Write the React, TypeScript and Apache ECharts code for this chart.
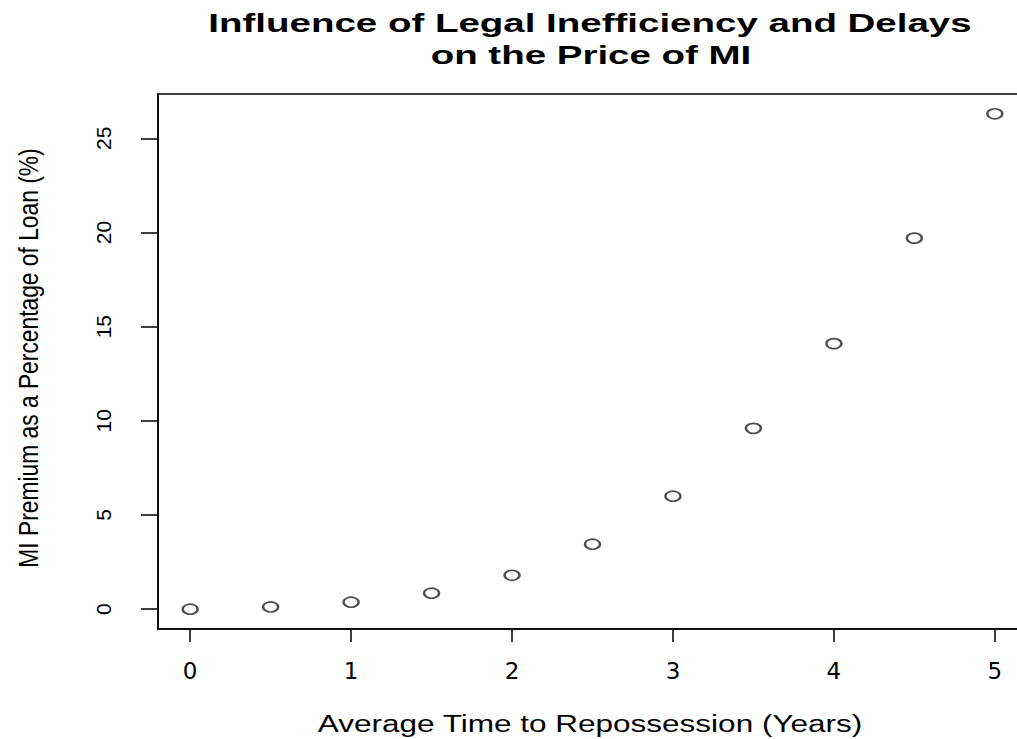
import React, { useEffect, useRef } from "react";
import * as echarts from "echarts";

const xValues = [0, 0.5, 1, 1.5, 2, 2.5, 3, 3.5, 4, 4.5, 5];
const yValues = [0, 0.12, 0.37, 0.85, 1.8, 3.45, 6.0, 9.6, 14.1, 19.7, 26.3];
const xTicks = [0, 1, 2, 3, 4, 5];
const yTicks = [0, 5, 10, 15, 20, 25];
const titleLines = ["Influence of Legal Inefficiency and Delays", "on the Price of MI"];
const xName = "Average Time to Repossession (Years)";
const yName = "MI Premium as a Percentage of Loan (%)";

export default function App() {
  const ref = useRef<HTMLDivElement>(null);
  useEffect(() => {
    document.body.style.margin = "0";
    document.body.style.overflow = "hidden";
    const chart = echarts.init(ref.current!, null, { renderer: "svg" });
    const font = "Liberation Sans, Arial, sans-serif";
    chart.setOption({
      animation: false,
      backgroundColor: "#fff",
      grid: {
        left: 158,
        top: 94,
        right: 0,
        bottom: 110,
        show: true,
        borderColor: "#000",
        borderWidth: 1.5,
        backgroundColor: "transparent",
        containLabel: false,
      },
      xAxis: {
        type: "value",
        min: -0.2,
        max: 5.2,
        splitLine: { show: false },
        axisLine: { show: true, onZero: false, lineStyle: { color: "#000", width: 1.5 } },
        axisTick: { show: true, length: 13, customValues: xTicks, lineStyle: { color: "#000", width: 1.5 } },
        axisLabel: {
          customValues: xTicks,
          margin: 30,
          fontSize: 23,
          fontFamily: "DejaVu Sans, sans-serif",
          color: "#000",
          formatter: (v: number) => String(v),
        },
      },
      yAxis: {
        type: "value",
        min: -1.052,
        max: 27.352,
        splitLine: { show: false },
        axisLine: { show: true, onZero: false, lineStyle: { color: "#000", width: 1.5 } },
        axisTick: { show: true, length: 17, customValues: yTicks, lineStyle: { color: "#000", width: 1.5 } },
        axisLabel: {
          customValues: yTicks,
          rotate: 90,
          margin: 44,
          fontSize: 21,
          fontFamily: font,
          color: "#000",
          formatter: (v: number) => String(v),
        },
      },
      graphic: [
        {
          type: "group",
          x: 590,
          y: 24,
          scaleX: 1.54,
          children: [
            {
              type: "text",
              style: {
                text: titleLines[0],
                fontSize: 25,
                fontWeight: "bold",
                fontFamily: font,
                fill: "#000",
                align: "center",
                verticalAlign: "middle",
              },
            },
          ],
        },
        {
          type: "group",
          x: 591,
          y: 56,
          scaleX: 1.54,
          children: [
            {
              type: "text",
              style: {
                text: titleLines[1],
                fontSize: 25,
                fontWeight: "bold",
                fontFamily: font,
                fill: "#000",
                align: "center",
                verticalAlign: "middle",
              },
            },
          ],
        },
        {
          type: "group",
          x: 590,
          y: 724,
          scaleX: 1.37,
          children: [
            {
              type: "text",
              style: {
                text: xName,
                fontSize: 23,
                fontFamily: font,
                fill: "#000",
                align: "center",
                verticalAlign: "middle",
              },
            },
          ],
        },
        {
          type: "group",
          x: 28,
          y: 358,
          rotation: Math.PI / 2,
          children: [
            {
              type: "text",
              scaleY: 1.2,
              style: {
                text: yName,
                fontSize: 22.8,
                fontFamily: font,
                fill: "#000",
                align: "center",
                verticalAlign: "middle",
              },
            },
          ],
        },
      ],
      series: [
        {
          type: "scatter",
          symbol: "emptyCircle",
          symbolSize: [15, 10],
          clip: false,
          itemStyle: { color: "#222", borderColor: "#222", borderWidth: 1.7 },
          data: xValues.map((x, i) => [x, yValues[i]]),
        },
      ],
    });
    return () => chart.dispose();
  }, []);
  return <div ref={ref} style={{ width: 1027, height: 739 }} />;
}
